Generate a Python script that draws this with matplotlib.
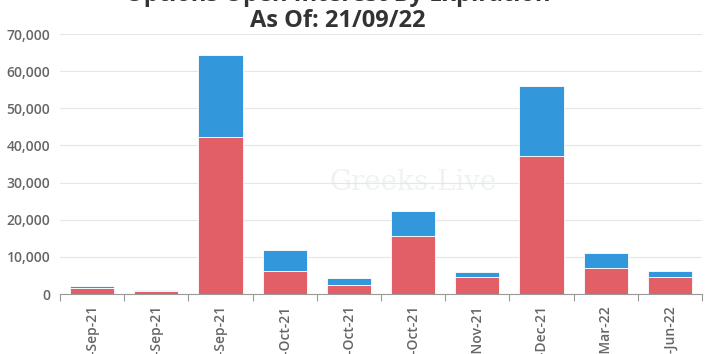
import matplotlib.pyplot as plt
import numpy as np

plt.rcParams['font.family'] = ['Open Sans', 'DejaVu Sans']

# expiry dates (day part is cut off in the reference)
expiries = ["22-Sep-21", "23-Sep-21", "24-Sep-21", "1-Oct-21", "8-Oct-21",
            "29-Oct-21", "26-Nov-21", "31-Dec-21", "25-Mar-22", "24-Jun-22"]
red_vals = [1600, 900, 42300, 6300, 2400, 15700, 4700, 37200, 7000, 4500]
blue_vals = [500, 200, 22100, 5600, 1900, 6700, 1200, 18800, 4100, 1800]

red = "#e25f68"
blue = "#3398db"
grey = "#666666"

fig = plt.figure(figsize=(7.08, 3.54), dpi=100)
ax = fig.add_axes([60 / 708, 1 - 294 / 354, 642 / 708, 260 / 354])

x = np.arange(len(expiries))
ax.bar(x, red_vals, width=0.69, color=red, edgecolor="white", linewidth=0.6, zorder=3)
ax.bar(x, blue_vals, bottom=red_vals, width=0.69, color=blue, edgecolor="white",
       linewidth=0.6, zorder=3)

ax.set_xlim(-0.5, len(expiries) - 0.5)
ax.set_ylim(0, 70000)
ax.set_yticks(np.arange(0, 70001, 10000))
ax.set_yticklabels([f"{v:,}" for v in range(0, 70001, 10000)])
ax.tick_params(axis="y", length=0, pad=7, labelsize=10, labelcolor=grey)
ax.grid(axis="y", color="#e6e6e6", linewidth=0.8, zorder=0)

# category boundary ticks, labels at centres
ax.set_xticks(np.arange(-0.5, len(expiries), 1))
ax.set_xticklabels([])
ax.tick_params(axis="x", length=5, color="#999999", width=0.8)
ax.set_xticks(x, minor=True)
ax.set_xticklabels(expiries, minor=True, rotation=90, fontsize=10, color=grey)
ax.tick_params(axis="x", which="minor", length=0, pad=8)

for lbl in ax.get_yticklabels() + ax.get_xticklabels(minor=True):
    lbl.set_fontweight("semibold")

for s in ["top", "right", "left"]:
    ax.spines[s].set_visible(False)
ax.spines["bottom"].set_color("#999999")
ax.spines["bottom"].set_linewidth(0.8)

# watermark
ax.text(0.55, 0.43, "Greeks.Live", transform=ax.transAxes, ha="center", va="center",
        fontsize=20, color="#dfe9e7", alpha=0.5, family="DejaVu Serif", zorder=4)

fig.text(338 / 708, 1 - 1 / 354, "Options Open Interest By Expiration", ha="center",
         va="baseline", fontsize=17, fontweight="bold", color="#333333")
fig.text(338 / 708, 1 - 27 / 354, "As Of: 21/09/22", ha="center", va="baseline",
         fontsize=17, fontweight="bold", color="#333333")

fig.savefig("out.png", dpi=100)
